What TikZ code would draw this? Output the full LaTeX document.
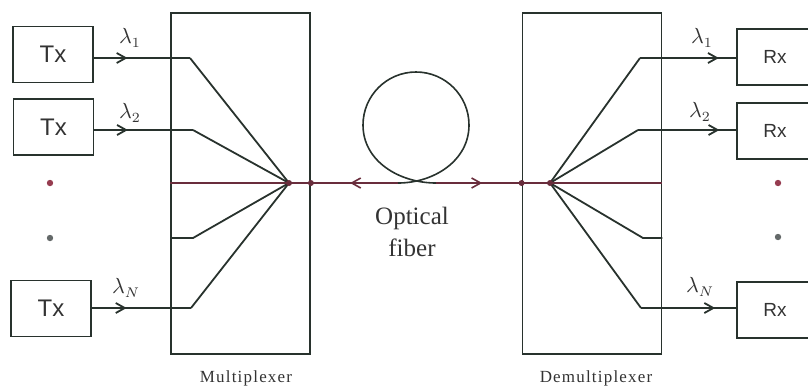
\documentclass[tikz,border=0pt]{standalone}
\usepackage{fontspec}
\setmainfont{Liberation Serif}
\newfontfamily\unitfont{Liberation Sans}
\usetikzlibrary{arrows.meta, decorations.markings}
\definecolor{wire}{RGB}{40,50,45}
\definecolor{fibre}{RGB}{105,45,60}
\definecolor{reddot}{RGB}{150,60,80}
\definecolor{graydot}{RGB}{100,105,105}
\tikzset{
  unit/.style={rectangle, draw=wire, line width=0.9pt, minimum width=40pt,
               minimum height=28pt, font=\unitfont\fontsize{12}{14}\selectfont,
               text=black!80},
  rxunit/.style={unit, minimum width=38pt, font=\unitfont\fontsize{9.5}{11}\selectfont},
  muxbox/.style={rectangle, draw=wire, line width=0.9pt, minimum width=69.5pt,
                 minimum height=170.5pt},
  muxlabel/.style={font=\addfontfeature{LetterSpace=7}\fontsize{8.5}{10}\selectfont,
                   text=black!80, inner sep=0pt},
  lam/.style={font=\fontsize{10.5}{12}\selectfont, text=black!80, inner sep=0pt},
  wireline/.style={draw=wire, line width=0.9pt},
  fibreline/.style={draw=fibre, line width=0.8pt},
  midarr/.style={postaction={decorate}, decoration={markings,
                 mark=at position #1 with {\arrow{Straight Barb[length=4.5pt,width=5pt]}}}},
  midarrback/.style={postaction={decorate}, decoration={markings,
                 mark=at position #1 with {\arrowreversed{Straight Barb[length=4.5pt,width=5pt]}}}},
}

\begin{document}
\begin{tikzpicture}[x=0.5pt, y=-0.5pt]
\useasboundingbox (0,0) rectangle (808,387);

% transmitters and receivers
\node[unit] (tx1) at (53,54.5) {Tx};
\node[unit] (tx2) at (53.5,127) {Tx};
\node[unit] (txN) at (51,308.5) {Tx};
\node[rxunit] (rx1) at (775,57) {Rx};
\node[rxunit] (rx2) at (775,131) {Rx};
\node[rxunit] (rxN) at (775,310) {Rx};

% mux / demux
\node[muxbox] (mux) at (240.5,183.5) {};
\node[muxbox] (demux) at (592,183.5) {};
\node[muxlabel] (muxname) at (246,378) {Multiplexer};
\node[muxlabel] (demuxname) at (596,378) {Demultiplexer};

\coordinate (fm) at (289,183);
\coordinate (fd) at (550,183);
\coordinate (b1) at (190,58);
\coordinate (b2) at (193,130);
\coordinate (b3) at (193,238);
\coordinate (bN) at (191,308);
\coordinate (c1) at (640,58);
\coordinate (c2) at (638,130);
\coordinate (c3) at (643,238);
\coordinate (cN) at (641,308);
\coordinate (lp) at (398,183);
\coordinate (rp) at (436,183);

% inputs
\draw[wireline, midarr=0.35] (tx1.east |- b1) -- (b1);
\draw[wireline, midarr=0.34] (tx2.east |- b2) -- (b2);
\draw[wireline, midarr=0.35] (txN.east |- bN) -- (bN);
\draw[wireline] (b1) -- (fm);
\draw[wireline] (b2) -- (fm);
\draw[wireline] (mux.west |- b3) -- (b3) -- (fm);
\draw[wireline] (bN) -- (fm);
\draw[fibreline] (mux.west |- fm) -- (fm) -- (mux.east |- fm);

% outputs
\draw[wireline] (fd) -- (c1);
\draw[wireline] (fd) -- (c2);
\draw[wireline] (fd) -- (c3) -- (demux.east |- c3);
\draw[wireline] (fd) -- (cN);
\draw[wireline, midarr=0.82] (c1) -- (rx1.west |- c1);
\draw[wireline, midarr=0.83] (c2) -- (rx2.west |- c2);
\draw[wireline, midarr=0.78] (cN) -- (rxN.west |- cN);
\draw[fibreline] (demux.west |- fd) -- (fd) -- (demux.east |- fd);

% fibre with loop
\draw[fibreline, midarrback=0.45] (mux.east |- fm) -- (lp);
\draw[wireline, line width=0.8pt] (lp) to[out=0,in=-90] (469,125)
  arc[start angle=0, end angle=180, radius=26.5pt] to[out=-90,in=180] (rp);
\draw[fibreline, midarr=0.54] (rp) -- (demux.west |- fd);
\node[font=\fontsize{12.5}{16}\selectfont, text=black!80, align=center] (fibrename)
  at (412,232) {Optical\\fiber};

% wavelengths
\node[lam] (l1) at (130,38) {$\lambda_1$};
\node[lam] (l2) at (130,113) {$\lambda_2$};
\node[lam] (lN) at (126,288) {$\lambda_N$};
\node[lam] (r1) at (702,38) {$\lambda_1$};
\node[lam] (r2) at (700,112) {$\lambda_2$};
\node[lam] (rN) at (700,287) {$\lambda_N$};

% junction dots
\fill[fibre] (fm) circle[radius=1.5pt];
\fill[fibre] (mux.east |- fm) circle[radius=1.5pt];
\fill[fibre] (fd) circle[radius=1.5pt];
\fill[fibre] (demux.west |- fd) circle[radius=1.5pt];
\fill[reddot] (50,183) circle[radius=1.6pt];
\fill[graydot] (50,238) circle[radius=1.6pt];
\fill[reddot] (778,183) circle[radius=1.6pt];
\fill[graydot] (778,237) circle[radius=1.6pt];
\end{tikzpicture}
\end{document}
